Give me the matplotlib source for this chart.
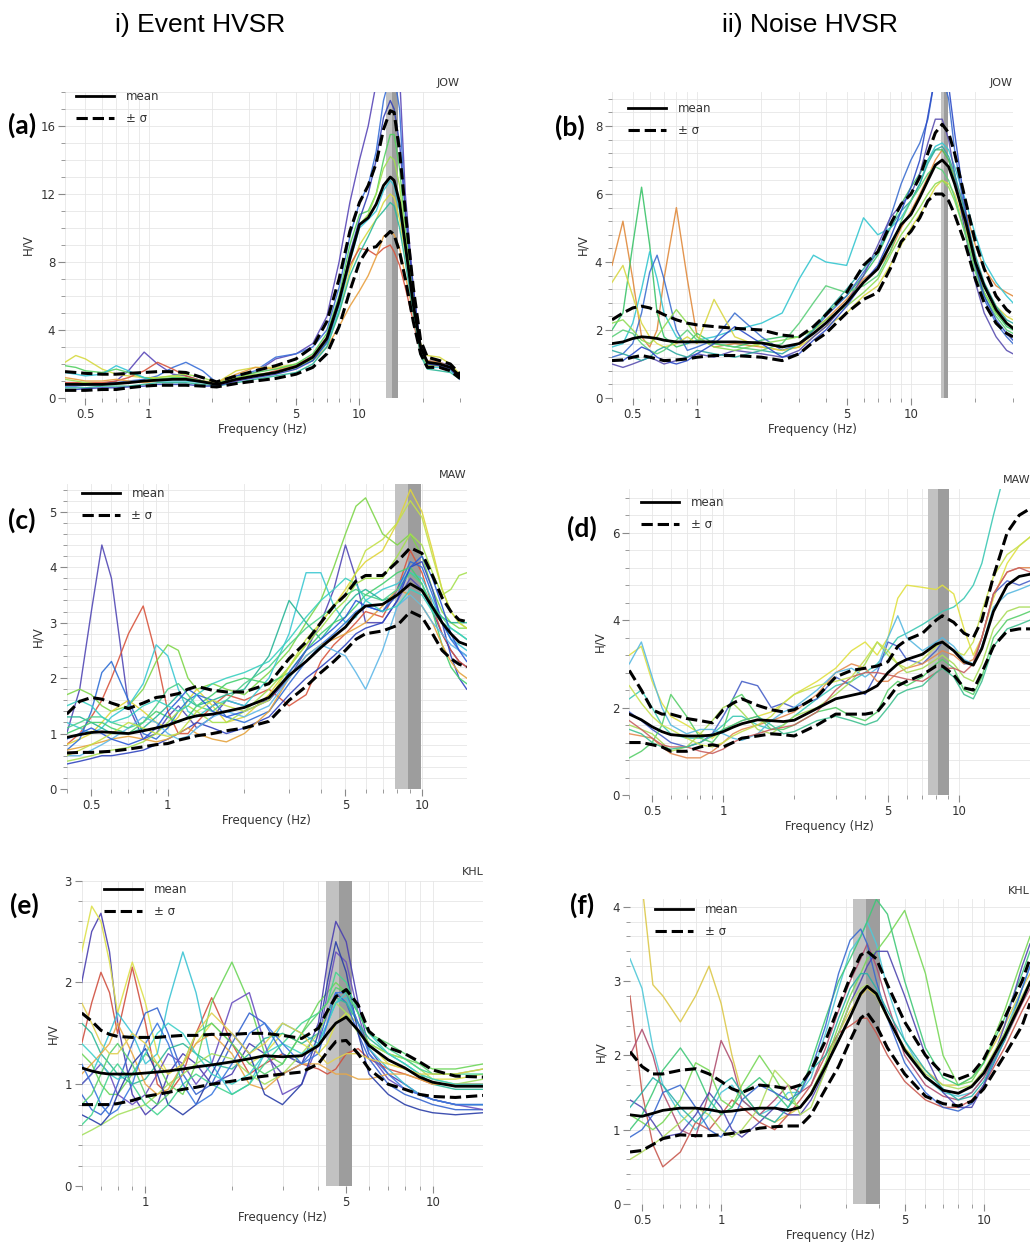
import matplotlib
matplotlib.use("Agg")
import matplotlib.pyplot as plt
from matplotlib.ticker import FixedLocator, MultipleLocator, NullFormatter, LogLocator

# ---------------- DATA ----------------
# (a) Event HVSR, JOW
fa = [0.4, 0.45, 0.5, 0.6, 0.7, 0.8, 0.95, 1.1, 1.3, 1.5, 1.8, 2.1, 2.6, 3.2, 4, 5, 6, 7, 8, 9, 10, 11, 12, 13, 14, 14.6, 15.5, 16.5, 18, 19.5, 21, 24, 27, 30]
mean_a = [0.8,0.8,0.8,0.8,0.85,0.9,1.0,1.05,1.1,1.1,0.95,0.8,1.1,1.3,1.5,1.85,2.4,3.5,5.7,8.2,10.2,10.6,11.4,12.5,13.0,12.8,11.5,9.0,5.5,3.0,2.1,2.0,1.8,1.3]
up_a = [1.55,1.5,1.45,1.4,1.4,1.45,1.5,1.55,1.55,1.5,1.2,0.95,1.3,1.6,1.9,2.3,3.0,4.5,7.0,9.8,11.5,12.5,13.8,15.8,16.9,16.8,14.5,11.0,6.5,3.4,2.4,2.2,2.0,1.4]
lo_a = [0.45,0.45,0.45,0.5,0.5,0.6,0.7,0.75,0.75,0.75,0.7,0.65,0.85,1.0,1.15,1.4,1.8,2.6,4.2,6.3,8.0,8.8,8.9,9.4,9.8,9.6,8.6,7.0,4.5,2.6,1.8,1.8,1.6,1.15]
a1 = [0.9,0.9,0.85,0.8,1.0,1.6,2.7,2.0,1.4,1.3,1.0,0.8,1.3,1.5,2.3,2.6,3.2,4.8,8.0,11.5,14.0,16.0,18.5,20,21,21,19,12,6.5,3.0,2.2,2.1,1.9,1.3]
a2 = [0.7,0.7,0.75,0.8,0.9,1.0,1.1,1.3,1.8,2.1,1.6,0.9,1.3,1.6,2.4,2.6,3.0,4.0,6.5,9.5,11.5,12.5,14.5,17.5,19,19,17,11,6,2.8,2.0,2.0,1.9,1.2]
a3 = [2.1,2.5,2.3,1.7,1.4,1.3,1.2,1.2,1.3,1.2,1.0,0.9,1.6,1.8,1.8,2.0,2.4,3.2,5.0,7.5,9.0,9.8,10.5,11.5,12.0,11.8,10.5,8.5,5.8,3.2,2.5,2.4,2.0,1.4]
a4 = [0.9,0.9,0.9,0.9,1.0,1.2,1.6,2.1,1.7,1.3,1.0,0.75,1.0,1.3,1.6,1.9,2.5,3.6,5.8,7.8,8.8,8.7,8.4,8.8,9.0,8.6,7.8,6.5,4.5,2.6,1.9,1.9,1.7,1.2]
a5 = [1.2,1.1,1.0,1.0,1.1,1.0,0.9,1.0,1.1,1.1,1.0,0.9,1.4,1.8,1.7,1.9,2.2,3.0,4.2,5.4,6.3,7.2,8.3,9.5,9.8,9.6,8.8,7.2,5.0,2.8,2.2,2.1,1.8,1.3]
a6 = [1.9,1.8,1.6,1.5,1.7,1.5,1.2,1.1,1.2,1.2,1.0,0.8,1.2,1.5,1.7,2.0,2.6,3.8,6.0,9.0,10.8,11.0,12.0,14.0,15.5,15.5,13.5,10.0,6.0,3.0,2.0,2.0,1.8,1.3]
a7 = [1.5,1.4,1.3,1.4,1.9,1.6,1.2,1.0,1.0,1.0,0.9,0.8,1.1,1.3,1.5,1.8,2.2,3.2,5.2,8.0,10.0,10.5,11.0,12.2,12.8,12.5,11.0,8.8,5.5,2.8,1.8,1.8,1.6,1.2]
a8 = [1.1,1.0,0.9,0.8,0.8,0.9,1.0,1.2,1.3,1.4,1.2,0.9,1.2,1.4,1.5,1.8,2.3,3.4,5.5,8.5,10.2,10.8,12.0,13.5,14.2,14.0,12.5,9.5,5.8,2.7,1.9,1.9,1.7,1.2]
a9 = [0.6,0.6,0.6,0.7,0.7,0.7,0.8,0.9,0.9,0.9,0.8,0.7,0.9,1.1,1.3,1.5,2.0,3.0,5.0,7.2,8.5,9.5,10.5,11.0,11.5,11.3,10.0,8.0,5.0,2.5,1.7,1.6,1.5,1.1]
a10 = [0.5,0.5,0.55,0.6,0.6,0.65,0.7,0.8,0.8,0.8,0.7,0.7,1.0,1.2,1.4,1.7,2.2,3.3,5.5,8.5,10.5,12.0,14.0,16.5,17.5,17.0,15.0,11.0,6.5,3.0,2.0,1.9,1.7,1.1]
band_a = [13.3, 14.2, 15.2]

# (b) Noise HVSR, JOW
fb = [0.4,0.45,0.5,0.55,0.6,0.65,0.7,0.8,0.9,1.0,1.2,1.5,2.0,2.5,3.0,3.5,4,5,6,7,8,9,10,11,12,13,14,15,16,18,20,22,25,28,30]
mean_b = [1.6,1.65,1.75,1.8,1.78,1.75,1.7,1.65,1.65,1.65,1.65,1.65,1.62,1.5,1.6,1.9,2.2,2.8,3.4,3.8,4.5,5.1,5.4,5.9,6.4,6.85,7.0,6.8,6.3,5.2,4.0,3.3,2.6,2.2,2.05]
up_b = [2.3,2.5,2.65,2.7,2.65,2.55,2.45,2.3,2.2,2.15,2.1,2.05,2.0,1.85,1.8,2.1,2.45,3.1,3.9,4.3,5.1,5.7,6.0,6.5,7.2,7.8,8.05,7.8,7.2,5.8,4.6,3.8,3.0,2.6,2.45]
lo_b = [1.1,1.12,1.2,1.25,1.2,1.15,1.1,1.12,1.15,1.2,1.25,1.25,1.2,1.1,1.3,1.65,1.9,2.5,2.9,3.1,3.8,4.6,4.9,5.3,5.8,6.0,6.0,5.8,5.4,4.5,3.5,2.8,2.2,1.9,1.8]
b1 = [3.9,5.2,3.5,1.8,1.5,2.0,3.5,5.6,3.5,1.8,1.5,1.6,1.5,1.4,1.5,2.0,2.3,2.9,3.5,3.8,4.3,5.0,5.5,6.0,6.5,7.0,7.3,7.0,6.5,5.5,4.5,3.8,3.3,3.1,3.0]
b2 = [2.0,2.5,4.5,6.2,4.5,2.5,1.8,1.5,1.6,1.9,1.6,1.5,1.7,1.8,1.8,2.0,2.5,3.0,3.6,4.2,5.0,5.7,6.2,6.6,7.0,7.3,7.3,7.0,6.4,5.0,3.9,3.1,2.5,2.1,2.0]
b3 = [1.5,1.6,2.2,3.2,4.3,3.5,2.5,1.8,1.6,1.7,1.8,2.0,2.2,2.5,3.5,4.2,4.0,3.9,5.3,4.8,5.0,5.3,5.8,6.3,7.0,7.4,7.5,7.3,6.8,5.8,4.8,4.0,3.4,3.0,2.8]
b4 = [1.2,1.3,1.6,2.5,3.7,4.2,3.5,2.0,1.4,1.5,1.7,2.5,1.8,1.4,1.6,2.0,2.4,3.0,3.7,4.3,5.3,6.3,7.0,7.5,8.2,9.5,9.5,8.8,7.3,5.3,3.8,2.9,2.2,1.8,1.6]
b5 = [3.4,3.9,3.0,2.2,1.8,1.6,1.5,1.6,1.8,1.6,2.9,1.8,1.5,1.4,1.5,1.8,2.1,2.5,3.0,3.3,3.9,4.5,5.0,5.4,5.8,6.2,6.4,6.3,6.0,5.0,4.0,3.3,2.7,2.4,2.3]
b6 = [1.0,0.9,1.0,1.1,1.2,1.1,1.0,1.1,1.2,1.3,1.2,1.4,1.3,1.2,1.4,1.8,2.1,2.8,3.6,4.5,5.3,5.7,6.0,6.6,7.5,8.2,8.2,7.6,6.6,4.8,3.4,2.5,1.8,1.4,1.3]
b7 = [2.2,2.3,2.0,1.7,1.6,1.8,2.1,2.6,2.2,1.8,1.5,1.4,1.6,1.7,1.8,2.0,2.3,2.7,3.1,3.5,4.2,4.8,5.2,5.6,6.0,6.3,6.4,6.2,5.8,4.8,3.8,3.1,2.5,2.2,2.1]
b8 = [1.4,1.3,1.2,1.1,1.2,1.4,1.5,1.3,1.2,1.4,1.3,1.2,1.4,1.3,1.6,2.0,2.5,3.2,3.8,4.3,5.0,5.5,5.8,6.3,6.9,7.3,7.4,7.1,6.6,5.4,4.2,3.4,2.7,2.3,2.2]
b9 = [1.8,2.0,1.9,1.6,1.4,1.3,1.4,1.7,2.0,1.7,1.6,1.5,1.4,1.6,2.2,2.8,3.3,3.1,3.3,3.6,4.3,5.2,5.8,6.2,6.6,6.8,6.7,6.4,5.9,4.8,3.7,3.0,2.4,2.0,1.9]
b10 = [1.1,1.1,1.3,1.5,1.4,1.2,1.1,1.0,1.1,1.3,1.6,2.1,1.6,1.2,1.3,1.7,2.0,2.7,3.4,3.9,4.7,5.5,6.2,7.0,8.3,9.5,9.5,9.2,7.8,5.5,3.9,3.0,2.3,1.9,1.7]
band_b = [13.8, 14.3, 14.9]

# (c) Event HVSR, MAW
fc = [0.4,0.45,0.5,0.55,0.6,0.7,0.8,0.9,1.0,1.1,1.2,1.3,1.5,1.7,2.0,2.5,3.0,3.5,4,4.5,5,5.5,6,7,8,9,10,11,12,13,14,15]
mean_c = [0.93,0.98,1.02,1.03,1.02,1.0,1.05,1.1,1.15,1.22,1.28,1.32,1.35,1.4,1.47,1.65,2.05,2.3,2.55,2.75,2.92,3.15,3.3,3.33,3.5,3.7,3.58,3.28,3.0,2.8,2.65,2.6]
up_c = [1.35,1.58,1.65,1.62,1.55,1.45,1.55,1.65,1.68,1.72,1.8,1.85,1.78,1.75,1.75,1.9,2.35,2.65,3.0,3.3,3.5,3.75,3.85,3.85,4.1,4.35,4.25,3.85,3.45,3.2,3.05,3.02]
lo_c = [0.65,0.66,0.66,0.67,0.68,0.72,0.76,0.8,0.82,0.88,0.92,0.96,1.0,1.05,1.1,1.22,1.6,1.85,2.1,2.3,2.5,2.7,2.8,2.85,2.95,3.2,3.1,2.8,2.5,2.35,2.25,2.2]
c1 = [1.0,1.8,3.2,4.4,3.8,1.5,0.9,1.0,1.3,1.5,1.3,1.1,1.3,1.6,1.5,1.6,2.0,2.5,3.0,3.6,4.4,3.8,3.0,3.0,3.4,3.8,3.6,3.2,2.8,2.5,2.3,2.2]
c2 = [0.8,1.0,1.3,1.6,2.0,2.8,3.3,2.4,1.4,1.0,1.0,1.2,1.5,1.7,1.6,1.8,1.5,1.7,2.3,2.6,2.8,3.0,3.2,3.1,3.6,4.3,3.9,3.3,2.8,2.5,2.3,2.2]
c3 = [1.7,1.8,1.7,1.5,1.4,1.5,1.8,2.3,2.6,2.5,2.0,1.8,1.9,1.8,1.7,2.1,2.5,3.0,3.4,4.0,4.6,5.1,5.25,4.6,4.4,4.6,4.2,3.6,3.2,3.0,2.9,2.9]
c4 = [0.8,0.9,1.0,1.2,1.4,1.6,1.4,1.2,1.1,1.3,1.6,1.8,1.5,1.2,1.3,1.7,2.2,2.6,3.0,3.3,3.6,3.9,4.1,4.3,4.8,5.4,5.0,4.3,3.6,3.2,3.0,2.9]
c5 = [1.2,1.1,1.0,1.1,1.3,1.5,1.9,2.6,2.4,1.8,1.4,1.3,1.5,1.6,1.5,2.0,2.8,3.9,3.9,3.3,3.0,3.1,3.4,3.6,3.7,3.9,3.8,3.4,3.0,2.7,2.6,2.5]
c6 = [0.7,0.9,1.4,2.1,2.3,1.6,1.0,0.9,1.1,1.4,1.6,1.7,1.6,1.3,1.2,1.4,1.9,2.3,2.6,2.8,3.0,3.2,3.3,3.2,3.6,4.1,4.0,3.5,3.0,2.7,2.5,2.4]
c7 = [1.3,1.3,1.2,1.1,1.0,1.0,1.1,1.3,1.5,1.7,1.6,1.5,1.6,1.7,1.8,2.4,3.4,3.0,2.7,3.0,3.3,3.5,3.6,3.4,3.5,3.7,3.6,3.3,3.1,3.0,3.0,3.0]
c8 = [0.5,0.55,0.6,0.65,0.7,0.75,0.85,1.0,1.2,1.4,1.5,1.4,1.2,1.2,1.4,1.8,2.2,2.6,2.9,3.2,3.4,3.7,3.8,3.8,4.2,4.6,4.4,3.9,3.5,3.6,3.85,3.9]
c9 = [0.45,0.5,0.55,0.6,0.6,0.65,0.7,0.8,0.9,1.0,1.1,1.2,1.1,1.0,1.1,1.3,1.7,2.0,2.2,2.4,2.6,2.8,2.9,3.0,3.4,4.0,4.1,3.6,3.0,2.4,2.0,1.8]
c10 = [1.0,1.1,1.2,1.2,1.1,1.0,1.2,1.4,1.3,1.2,1.3,1.5,1.7,1.9,2.0,1.9,2.1,2.5,2.8,3.0,3.1,3.3,3.5,3.7,3.9,4.0,3.7,3.2,2.6,2.2,2.0,1.9]
c11 = [0.7,0.75,0.8,0.85,0.9,0.95,0.9,0.85,0.9,1.0,1.1,1.0,0.9,0.85,1.0,1.4,2.0,2.4,2.6,2.7,2.8,2.9,3.0,3.3,3.6,3.5,3.3,3.0,2.6,2.3,2.1,2.0]
c12 = [0.6,0.6,0.7,0.8,0.9,1.1,1.3,1.2,1.0,0.9,0.95,1.1,1.3,1.4,1.3,1.5,2.0,2.4,2.6,2.5,2.4,2.1,1.8,2.5,3.3,3.5,3.3,3.0,2.8,2.6,2.5,2.4]
c13 = [1.1,1.2,1.3,1.3,1.2,1.1,1.2,1.5,1.8,1.9,1.7,1.5,1.4,1.6,1.9,2.2,2.6,2.9,3.1,3.3,3.5,3.6,3.5,3.4,3.6,3.9,3.7,3.3,3.1,2.9,2.8,2.7]
c14 = [0.9,1.0,1.1,1.0,0.9,0.8,0.9,1.1,1.4,1.6,1.8,1.7,1.4,1.3,1.4,1.6,2.1,2.5,2.7,2.9,3.1,3.4,3.3,3.2,3.5,4.0,4.2,3.8,3.3,2.8,2.5,2.3]
c15 = [1.5,1.6,1.5,1.3,1.2,1.3,1.5,1.6,1.5,1.4,1.5,1.7,1.9,2.0,2.1,2.3,2.7,3.1,3.4,3.6,3.8,3.7,3.4,3.2,3.3,3.6,3.5,3.2,3.0,2.9,2.8,2.7]
c16 = [0.6,0.7,0.8,0.9,1.0,1.2,1.1,1.0,0.95,1.0,1.2,1.4,1.6,1.5,1.4,1.6,2.2,2.7,3.0,3.3,3.5,3.9,4.3,4.5,4.8,5.2,4.9,4.2,3.6,3.2,3.0,2.9]
band_c = [7.8, 8.8, 9.9]

# (d) Noise HVSR, MAW
fd = [0.4,0.45,0.5,0.55,0.6,0.7,0.8,0.9,1.0,1.1,1.2,1.4,1.6,1.8,2.0,2.5,3.0,3.5,4,4.5,5,5.5,6,7,8,8.5,9.5,10.5,11.5,12.5,14,16,18,20]
mean_d = [1.85,1.72,1.56,1.45,1.38,1.35,1.35,1.37,1.45,1.55,1.63,1.72,1.7,1.68,1.71,1.98,2.2,2.28,2.35,2.5,2.8,3.0,3.1,3.22,3.45,3.5,3.3,3.05,2.97,3.35,4.2,4.8,5.0,5.05]
up_d = [2.85,2.4,1.95,1.85,1.85,1.75,1.7,1.65,1.95,2.1,2.2,2.05,1.95,1.9,1.95,2.25,2.7,2.85,2.9,2.95,3.05,3.4,3.55,3.7,4.0,4.1,3.95,3.7,3.6,4.0,5.0,6.0,6.4,6.55]
lo_d = [1.2,1.2,1.15,1.1,1.0,1.0,1.1,1.15,1.1,1.2,1.3,1.35,1.4,1.38,1.35,1.6,1.85,1.85,1.85,1.9,2.2,2.5,2.6,2.75,2.95,2.95,2.75,2.45,2.4,2.8,3.4,3.75,3.8,3.8]
d1 = [2.2,2.4,2.0,1.6,1.4,1.3,1.3,1.4,1.6,1.8,1.8,1.6,1.5,1.6,1.8,2.2,2.5,2.6,2.8,3.0,3.3,3.6,3.7,3.9,4.1,4.2,4.3,4.5,4.8,5.3,6.4,7.6,8.0,8.2]
d2 = [3.2,3.4,2.6,2.1,1.8,1.6,1.4,1.3,1.5,1.6,1.7,1.8,1.9,2.1,2.3,2.6,2.9,3.3,3.5,3.2,3.6,4.5,4.8,4.75,4.7,4.8,4.6,3.8,3.2,3.6,4.5,5.3,5.7,5.9]
d3 = [1.9,1.7,1.5,1.35,1.2,1.1,1.2,1.4,1.8,2.2,2.6,2.5,2.0,2.1,2.0,2.2,2.7,2.5,2.3,2.8,3.5,3.4,3.1,3.0,3.3,3.5,3.3,3.0,3.0,3.6,4.6,4.9,4.8,4.9]
d4 = [1.4,1.35,1.3,1.1,0.95,0.85,0.85,1.0,1.2,1.4,1.5,1.6,1.7,1.8,1.9,2.3,2.8,3.0,2.9,2.6,2.6,2.8,2.9,3.0,3.2,3.3,3.2,3.0,3.1,3.6,4.6,5.1,5.2,5.2]
d5 = [0.85,1.0,1.2,1.6,2.3,1.8,1.3,1.2,1.5,2.2,2.3,1.8,1.5,1.5,1.6,1.9,2.0,1.8,1.7,1.9,2.4,2.6,2.5,2.7,3.0,3.1,2.9,2.4,2.3,2.7,3.6,4.0,4.1,4.2]
d6 = [1.6,1.5,1.4,1.2,1.0,1.1,1.4,1.7,2.0,2.1,1.9,1.5,1.4,1.6,1.8,2.0,2.3,2.6,3.0,3.5,3.2,3.0,2.8,2.9,3.1,3.2,3.0,2.7,2.6,3.0,3.8,4.2,4.3,4.3]
d7 = [3.0,3.5,2.7,2.0,1.6,1.4,1.5,1.5,1.4,1.3,1.25,1.4,1.7,1.9,2.0,2.4,2.8,2.9,2.7,2.9,3.6,4.1,3.6,3.3,3.5,3.6,3.4,3.1,3.0,3.4,4.3,4.6,4.7,4.8]
d8 = [1.7,1.5,1.3,1.15,1.1,1.1,1.0,0.95,1.05,1.2,1.3,1.4,1.5,1.55,1.6,1.9,2.4,2.7,2.8,2.8,2.75,2.7,2.65,2.6,2.8,2.9,2.9,2.8,3.0,3.6,4.6,5.1,5.2,5.1]
d9 = [1.5,1.4,1.2,1.1,1.05,1.1,1.2,1.35,1.5,1.6,1.7,1.8,1.6,1.4,1.45,1.7,1.8,1.7,1.6,1.7,2.0,2.3,2.4,2.5,2.8,2.9,2.7,2.3,2.2,2.6,3.4,3.8,3.9,4.0]
d10 = [2.5,2.1,1.8,1.6,1.5,1.3,1.15,1.1,1.2,1.35,1.45,1.6,1.8,2.1,2.3,2.5,2.6,2.7,3.1,3.5,3.3,3.0,2.9,3.1,3.4,3.5,3.3,3.2,3.5,4.2,5.0,5.5,5.7,5.9]
band_d = [7.37, 8.17, 9.1]

# (e) Event HVSR, KHL
fe = [0.6,0.65,0.7,0.75,0.8,0.9,1.0,1.1,1.2,1.35,1.5,1.7,2.0,2.3,2.6,3.0,3.5,4.0,4.3,4.6,5.0,5.5,6,7,8,9,10,12,15]
mean_e = [1.16,1.13,1.11,1.1,1.1,1.1,1.11,1.12,1.13,1.15,1.17,1.19,1.22,1.25,1.28,1.27,1.28,1.38,1.5,1.6,1.66,1.53,1.38,1.24,1.16,1.07,1.02,0.98,0.98]
up_e = [1.7,1.62,1.53,1.49,1.47,1.46,1.46,1.46,1.47,1.48,1.48,1.49,1.49,1.5,1.5,1.48,1.45,1.55,1.72,1.86,1.93,1.78,1.52,1.36,1.3,1.22,1.14,1.08,1.07]
lo_e = [0.8,0.8,0.8,0.8,0.81,0.84,0.88,0.9,0.92,0.95,0.97,1.0,1.03,1.06,1.08,1.1,1.12,1.2,1.32,1.42,1.43,1.3,1.15,1.0,0.95,0.9,0.88,0.87,0.89]
e1 = [2.0,2.5,2.68,2.3,1.6,0.9,0.7,0.8,1.1,1.3,1.2,1.0,1.1,1.4,1.3,1.1,1.2,1.6,2.2,2.6,2.4,1.8,1.35,1.1,1.0,0.9,0.85,0.8,0.8]
e2 = [2.3,2.75,2.6,2.2,1.7,2.2,1.8,1.3,1.1,1.2,1.4,1.6,1.4,1.2,1.3,1.5,1.4,1.3,1.4,1.6,1.7,1.6,1.4,1.2,1.15,1.1,1.05,1.05,1.1]
e3 = [1.4,1.8,2.1,1.9,1.5,2.15,1.6,1.0,0.9,1.1,1.5,1.85,1.4,1.1,1.2,1.3,1.2,1.15,1.1,1.15,1.3,1.35,1.25,1.15,1.1,1.05,1.0,1.0,1.0]
e4 = [1.0,1.1,1.3,1.5,1.7,1.5,1.2,1.3,1.8,2.3,1.9,1.2,0.9,1.0,1.3,1.6,1.5,1.4,1.6,1.8,1.85,1.6,1.35,1.15,1.0,0.9,0.85,0.8,0.8]
e5 = [1.3,1.2,1.0,0.9,0.9,1.1,1.3,1.2,1.0,0.9,1.2,1.8,2.2,1.8,1.3,1.2,1.5,1.8,1.9,2.0,1.9,1.6,1.4,1.3,1.25,1.2,1.15,1.15,1.2]
e6 = [0.9,0.75,0.7,0.8,1.0,1.4,1.7,1.75,1.5,1.1,0.9,1.0,1.4,1.7,1.6,1.3,1.2,1.4,1.7,1.9,1.8,1.5,1.25,1.0,0.9,0.85,0.8,0.75,0.75]
e7 = [1.0,1.1,1.2,1.1,0.9,0.8,0.9,1.1,1.3,1.2,1.0,1.2,1.8,1.9,1.4,0.9,1.0,1.4,1.9,2.3,2.2,1.7,1.3,1.05,0.95,0.9,0.85,0.8,0.75]
e8 = [1.6,1.5,1.3,1.2,1.1,1.0,1.05,1.2,1.35,1.4,1.3,1.2,1.15,1.3,1.45,1.5,1.4,1.5,1.7,1.85,1.8,1.6,1.45,1.3,1.2,1.1,1.0,0.95,0.95]
e9 = [0.5,0.55,0.6,0.65,0.7,0.75,0.8,0.9,1.0,1.1,1.2,1.3,1.25,1.1,1.0,1.1,1.3,1.5,1.7,1.8,1.7,1.5,1.4,1.3,1.25,1.15,1.05,1.0,1.05]
e10 = [1.1,1.2,1.3,1.4,1.6,1.3,1.0,0.9,0.95,1.2,1.4,1.5,1.3,1.0,0.95,1.1,1.2,1.2,1.15,1.1,1.1,1.05,1.05,1.1,1.1,1.05,1.0,1.0,1.0]
e11 = [0.7,0.65,0.6,0.7,0.9,1.2,1.35,1.1,0.8,0.7,0.8,1.1,1.5,1.3,0.9,0.8,1.0,1.5,2.0,2.4,2.1,1.5,1.1,0.9,0.8,0.75,0.72,0.7,0.72]
e12 = [0.6,0.7,0.9,1.1,1.2,1.0,0.8,0.7,0.8,1.0,1.1,1.0,0.9,1.0,1.2,1.4,1.6,1.7,1.8,2.1,2.0,1.7,1.5,1.35,1.25,1.15,1.1,1.1,1.1]
e13 = [1.4,1.3,1.2,1.1,1.05,1.1,1.3,1.5,1.6,1.5,1.3,1.1,1.0,1.1,1.3,1.4,1.3,1.4,1.6,1.8,1.9,1.7,1.5,1.3,1.2,1.1,1.05,1.0,1.0]
e14 = [1.2,1.0,0.8,0.7,0.75,1.0,1.4,1.6,1.4,1.0,0.8,0.9,1.2,1.5,1.6,1.4,1.2,1.3,1.6,1.9,1.9,1.6,1.3,1.1,0.95,0.9,0.85,0.8,0.8]
e15 = [0.8,0.9,1.1,1.3,1.4,1.2,0.9,0.8,0.9,1.2,1.5,1.6,1.4,1.2,1.1,1.2,1.5,1.7,1.8,1.95,1.9,1.7,1.5,1.4,1.3,1.2,1.1,1.1,1.15]
e16 = [1.8,1.6,1.4,1.3,1.3,1.5,1.4,1.2,1.1,1.2,1.5,1.7,1.5,1.3,1.4,1.6,1.5,1.3,1.2,1.25,1.3,1.3,1.25,1.2,1.15,1.1,1.1,1.1,1.15]
band_e = [4.26, 4.73, 5.23]

# (f) Noise HVSR, KHL
ff = [0.45,0.5,0.55,0.6,0.7,0.8,0.9,1.0,1.1,1.2,1.4,1.6,1.8,2.0,2.2,2.5,2.8,3.1,3.4,3.6,3.9,4.3,5,6,7,8,9,10,12,14,15]
mean_f = [1.2,1.18,1.22,1.26,1.29,1.29,1.27,1.24,1.25,1.27,1.29,1.29,1.26,1.3,1.48,1.85,2.2,2.52,2.83,2.93,2.83,2.52,2.07,1.71,1.53,1.49,1.58,1.76,2.25,2.74,2.98]
up_f = [2.05,1.85,1.75,1.75,1.8,1.82,1.75,1.65,1.55,1.5,1.6,1.58,1.55,1.6,1.8,2.2,2.65,3.05,3.35,3.4,3.3,2.95,2.45,2.0,1.75,1.68,1.75,1.95,2.5,3.0,3.3]
lo_f = [0.7,0.72,0.8,0.88,0.93,0.92,0.92,0.93,0.95,0.97,1.02,1.04,1.05,1.05,1.2,1.55,1.85,2.2,2.5,2.57,2.4,2.1,1.75,1.45,1.35,1.32,1.38,1.55,2.0,2.4,2.7]
f1 = [4.5,4.3,2.95,2.8,2.45,2.8,3.2,2.7,2.0,1.5,1.2,1.1,1.2,1.3,1.5,1.9,2.3,2.6,2.8,2.9,2.8,2.5,2.1,1.8,1.6,1.6,1.7,1.9,2.4,2.9,3.1]
f2 = [3.3,2.9,2.1,1.6,1.2,1.0,1.2,1.5,1.6,1.4,1.2,1.3,1.5,1.5,1.7,2.3,2.9,3.4,3.6,3.8,3.5,2.9,2.2,1.7,1.5,1.45,1.5,1.7,2.3,2.9,3.2]
f3 = [2.8,1.5,0.8,0.5,0.7,1.1,1.0,1.2,1.4,1.3,1.1,1.0,1.2,1.4,1.6,2.0,2.3,2.4,2.5,2.5,2.3,2.0,1.65,1.4,1.3,1.3,1.4,1.6,2.1,2.6,2.8]
f4 = [2.0,2.35,2.0,1.5,1.0,0.9,1.5,2.2,1.9,1.4,1.2,1.4,1.6,1.5,1.6,2.1,2.6,3.0,3.3,3.5,3.2,2.7,2.0,1.6,1.45,1.4,1.5,1.7,2.2,2.7,2.9]
f5 = [1.2,1.1,1.0,1.1,1.4,1.9,1.8,1.4,1.3,1.6,2.0,1.7,1.4,1.3,1.5,1.9,2.4,2.8,3.1,3.3,3.4,3.6,3.95,3.1,2.0,1.6,1.65,1.9,2.6,3.3,3.6]
f6 = [1.0,1.2,1.5,1.8,2.1,1.8,1.4,1.2,1.3,1.5,1.7,1.5,1.3,1.5,1.9,2.5,3.0,3.3,3.6,3.8,4.1,3.9,3.0,2.1,1.7,1.6,1.7,1.9,2.5,3.1,3.4]
f7 = [0.9,1.0,1.2,1.5,1.6,1.3,1.0,0.9,1.1,1.4,1.6,1.5,1.4,1.5,1.8,2.4,3.1,3.55,3.7,3.5,3.0,2.5,1.9,1.5,1.3,1.25,1.35,1.6,2.2,2.9,3.2]
f8 = [1.4,1.3,1.1,0.9,0.95,1.2,1.5,1.3,1.0,0.9,1.1,1.3,1.2,1.2,1.4,1.8,2.3,2.7,3.0,3.2,3.4,3.4,2.8,2.0,1.5,1.3,1.3,1.6,2.4,3.2,3.5]
f9 = [0.6,0.7,0.8,0.9,1.1,1.3,1.2,1.0,0.9,1.0,1.3,1.8,1.6,1.2,1.3,1.8,2.3,2.7,2.9,2.95,2.8,2.5,2.1,1.75,1.6,1.55,1.6,1.8,2.3,2.8,3.0]
f10 = [1.3,1.5,1.7,1.6,1.3,1.1,1.3,1.6,1.7,1.5,1.2,1.1,1.3,1.6,1.8,2.0,2.5,2.9,3.1,3.1,2.9,2.6,2.2,1.8,1.55,1.4,1.45,1.65,2.2,2.75,3.0]
band_f = [3.17, 3.56, 4.02]

stations = ["JOW", "JOW", "MAW", "MAW", "KHL", "KHL"]
panel_labels = ["(a)", "(b)", "(c)", "(d)", "(e)", "(f)"]
column_titles = ["i) Event HVSR", "ii) Noise HVSR"]
legend_labels = ["mean", "\u00b1 \u03c3"]

# ---------------- STYLE / LAYOUT ----------------
W, H = 1030, 1242
fig = plt.figure(figsize=(W / 100, H / 100), dpi=100)

def frac_box(x0, x1, y0, y1):
    return [x0 / W, 1 - y1 / H, (x1 - x0) / W, (y1 - y0) / H]

pal10 = ['#5a48b8', '#3a6fd8', '#d6d940', '#d8553e', '#e8a040',
         '#52d060', '#34c4d6', '#9ee050', '#2db89a', '#3340b5']
pal16 = ['#5248b5', '#d8553e', '#7fd64a', '#e0d53a', '#3cc8d2', '#2f6fd6',
         '#28b597', '#a6e04f', '#3045c0', '#45cf6f', '#e5a23c', '#5fb8e8',
         '#4cd08a', '#2a5ad8', '#3ad0c0', '#c4e048']
palb = ['#e08a3c', '#3cc46a', '#35c6d0', '#3d6fd0', '#d9d743', '#5a4fb0',
        '#8fdc55', '#2fa8a0', '#5ccf7a', '#2d4cc8']
pald = ['#3cc8b4', '#e0e040', '#4760c8', '#e38a50', '#58cf6a', '#a8dc58',
        '#58b8e0', '#c86060', '#40c090', '#c8e050']
pale = ['#4a3fb0', '#dde04a', '#d05040', '#3cc4d4', '#6cd65a', '#3565d0',
        '#6a50c0', '#30b898', '#a5e060', '#e8a848', '#2a3ea8', '#45d490',
        '#40d0c8', '#3a78e0', '#5ad070', '#e0d050']
palf = ['#dcc84a', '#50c8d8', '#c85a50', '#b05070', '#78d858', '#40c878',
        '#3a6ad0', '#5048b0', '#b0dc60', '#2cb0a8']

panels = [
    dict(f=fa, curves=[a1, a2, a3, a4, a5, a6, a7, a8, a9, a10], mean=mean_a, up=up_a, lo=lo_a, band=band_a,
         pal=pal10, box=frac_box(65, 460, 92, 398), xlim=(0.4, 30), ylim=(0, 18), ymaj=4, ymin=1,
         xt=[0.5, 1, 5, 10], leg=(0.028, 1.006)),
    dict(f=fb, curves=[b1, b2, b3, b4, b5, b6, b7, b8, b9, b10], mean=mean_b, up=up_b, lo=lo_b, band=band_b,
         pal=palb, box=frac_box(612, 1013, 92, 398), xlim=(0.4, 30), ylim=(0, 9), ymaj=2, ymin=0.4,
         xt=[0.5, 1, 5, 10], leg=(0.04, 0.967)),
    dict(f=fc, curves=[c1, c2, c3, c4, c5, c6, c7, c8, c9, c10, c11, c12, c13, c14, c15, c16],
         mean=mean_c, up=up_c, lo=lo_c,
         band=band_c, pal=pal16, box=frac_box(66.7, 466.7, 484, 789), xlim=(0.4, 15), ylim=(0, 5.5), ymaj=1,
         ymin=0.2, xt=[0.5, 1, 5, 10], leg=(0.038, 0.99)),
    dict(f=fd, curves=[d1, d2, d3, d4, d5, d6, d7, d8, d9, d10], mean=mean_d, up=up_d, lo=lo_d, band=band_d,
         pal=pald, box=frac_box(629.3, 1030, 489, 795), xlim=(0.4, 20), ylim=(0, 7), ymaj=2, ymin=0.4,
         xt=[0.5, 1, 5, 10], leg=(0.029, 0.977)),
    dict(f=fe, curves=[e1, e2, e3, e4, e5, e6, e7, e8, e9, e10, e11, e12, e13, e14, e15, e16],
         mean=mean_e, up=up_e, lo=lo_e,
         band=band_e, pal=pale, box=frac_box(81.7, 483.3, 880.7, 1186), xlim=(0.6, 15), ylim=(0, 3), ymaj=1,
         ymin=0.2, xt=[1, 5, 10], leg=(0.056, 0.9925)),
    dict(f=ff, curves=[f1, f2, f3, f4, f5, f6, f7, f8, f9, f10], mean=mean_f, up=up_f, lo=lo_f, band=band_f,
         pal=palf, box=frac_box(630, 1030, 899.3, 1204), xlim=(0.45, 15), ylim=(0, 4.1), ymaj=1, ymin=0.2,
         xt=[0.5, 1, 5, 10], leg=(0.0625, 0.988)),
]

label_pos = [(8, 125), (555, 127), (8, 520), (567, 528), (10, 905), (570, 905)]

for i, p in enumerate(panels):
    ax = fig.add_axes(p["box"])
    ax.set_xscale("log")
    b0, b1_, b2 = p["band"]
    ax.axvspan(b0, b1_, color="#c2c2c2", lw=0, zorder=1)
    ax.axvspan(b1_, b2, color="#9d9d9d", lw=0, zorder=1)
    for c, col in zip(p["curves"], p["pal"]):
        ax.plot(p["f"], c, color=col, lw=1.0, alpha=0.9, zorder=2)
    lm, = ax.plot(p["f"], p["mean"], color="black", lw=2.0, zorder=5)
    lu, = ax.plot(p["f"], p["up"], color="black", lw=2.2, ls="--", zorder=5)
    ax.plot(p["f"], p["lo"], color="black", lw=2.2, ls="--", zorder=5)
    ax.set_xlim(*p["xlim"])
    ax.set_ylim(*p["ylim"])
    ax.xaxis.set_major_locator(FixedLocator(p["xt"]))
    ax.set_xticklabels([("%g" % t) for t in p["xt"]])
    ax.xaxis.set_minor_locator(LogLocator(base=10, subs=[1, 2, 3, 4, 5, 6, 7, 8, 9], numticks=20))
    ax.xaxis.set_minor_formatter(NullFormatter())
    ax.yaxis.set_major_locator(MultipleLocator(p["ymaj"]))
    ax.yaxis.set_minor_locator(MultipleLocator(p["ymin"]))
    for s in ax.spines.values():
        s.set_visible(False)
    ax.grid(which="both", color="#e6e6e6", lw=0.6, zorder=0)
    ax.set_axisbelow(True)
    ax.tick_params(which="major", length=5, width=0.8, color="#8a8a8a", labelsize=8.5,
                   labelcolor="#333333", pad=2)
    ax.tick_params(which="minor", length=3, width=0.7, color="#9a9a9a")
    ax.set_xlabel("Frequency (Hz)", fontsize=8.5, color="#333333", labelpad=1.5)
    ax.set_ylabel("H/V", fontsize=8.5, color="#333333")
    ax.text(1.0, 1.012, stations[i], transform=ax.transAxes, ha="right", va="bottom",
            fontsize=8, color="#333333")
    ax.legend([lm, lu], legend_labels, loc="upper left", bbox_to_anchor=p["leg"], frameon=False,
              fontsize=8.5, handlelength=3.2, handletextpad=1.0, labelspacing=0.75,
              borderpad=0, borderaxespad=0, labelcolor="#333333")
    lx, ly = label_pos[i]
    fig.text(lx / W, 1 - ly / H, panel_labels[i], ha="left", va="center", fontsize=19,
             fontweight="bold", family=["Lato", "DejaVu Sans"])

fig.text(200 / W, 1 - 25 / H, column_titles[0], ha="center", va="center", fontsize=19,
         family=["Liberation Sans", "DejaVu Sans"])
fig.text(810 / W, 1 - 25 / H, column_titles[1], ha="center", va="center", fontsize=19,
         family=["Liberation Sans", "DejaVu Sans"])

fig.savefig("out.png", dpi=100)
